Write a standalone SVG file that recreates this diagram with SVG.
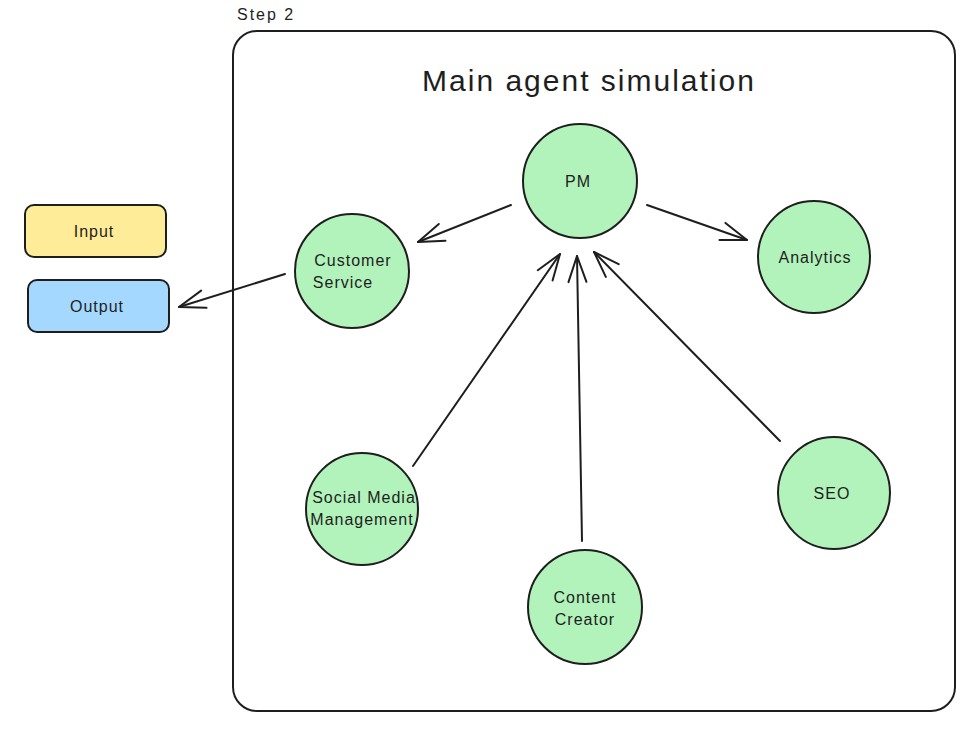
<svg xmlns="http://www.w3.org/2000/svg" width="972" height="735" viewBox="0 0 972 735">
<style>
.t{font-family:"Liberation Sans",Arial,sans-serif;fill:#1e1e1e;text-anchor:middle;dominant-baseline:central;letter-spacing:1px}
.n{fill:#b2f2bb;stroke:#1e1e1e;stroke-width:2}
.c{stroke:#1e1e1e;stroke-width:2;fill:none;stroke-linecap:round}
</style>
<defs>
<marker id="ah" markerUnits="userSpaceOnUse" markerWidth="40" markerHeight="40" viewBox="-30 -20 40 40" refX="0" refY="0" orient="auto">
<path d="M-26,-9 L0,0 L-26,9" fill="none" stroke="#1e1e1e" stroke-width="2" stroke-linecap="round" stroke-linejoin="round"/>
</marker>
</defs>
<rect width="972" height="735" fill="#ffffff"/>
<g id="frame">
<rect x="233" y="31" width="722" height="680" rx="24" fill="none" stroke="#1e1e1e" stroke-width="2"/>
<text class="t" x="237" y="14" style="text-anchor:start;font-size:16px;letter-spacing:2px">Step 2</text>
<text class="t" x="589" y="80" style="font-size:30px;letter-spacing:2px">Main agent simulation</text>
</g>
<g id="input"><rect x="25" y="205" width="141" height="52" rx="9" fill="#ffec99" stroke="#1e1e1e" stroke-width="2"/><text class="t" x="94" y="231" font-size="16">Input</text></g>
<g id="output"><rect x="28" y="280" width="141" height="52" rx="9" fill="#a5d8ff" stroke="#1e1e1e" stroke-width="2"/><text class="t" x="97" y="306" font-size="16">Output</text></g>
<g id="pm"><circle class="n" cx="580" cy="181" r="57"/><text class="t" x="578" y="181" font-size="16">PM</text></g>
<g id="customer-service"><circle class="n" cx="352" cy="271" r="57"/><text class="t" x="353" y="260" font-size="16">Customer</text><text class="t" x="343" y="282" font-size="16">Service</text></g>
<g id="analytics"><circle class="n" cx="814" cy="257" r="56"/><text class="t" x="815" y="257" font-size="16">Analytics</text></g>
<g id="social-media"><circle class="n" cx="362" cy="509" r="56"/><text class="t" x="364" y="497" font-size="16">Social Media</text><text class="t" x="362" y="519" font-size="16">Management</text></g>
<g id="content-creator"><circle class="n" cx="585" cy="607" r="57"/><text class="t" x="585" y="597" font-size="16">Content</text><text class="t" x="585" y="619" font-size="16">Creator</text></g>
<g id="seo"><circle class="n" cx="834" cy="493" r="56"/><text class="t" x="832" y="493" font-size="16">SEO</text></g>
<g id="connectors">
<line class="c" x1="511" y1="205" x2="418" y2="242" marker-end="url(#ah)"/>
<line class="c" x1="647" y1="205" x2="747" y2="240" marker-end="url(#ah)"/>
<line class="c" x1="285" y1="274" x2="179" y2="307" marker-end="url(#ah)"/>
<line class="c" x1="413" y1="466" x2="560" y2="254" marker-end="url(#ah)"/>
<line class="c" x1="582" y1="541" x2="577" y2="256" marker-end="url(#ah)"/>
<line class="c" x1="780" y1="441" x2="594" y2="252" marker-end="url(#ah)"/>
</g>
</svg>
